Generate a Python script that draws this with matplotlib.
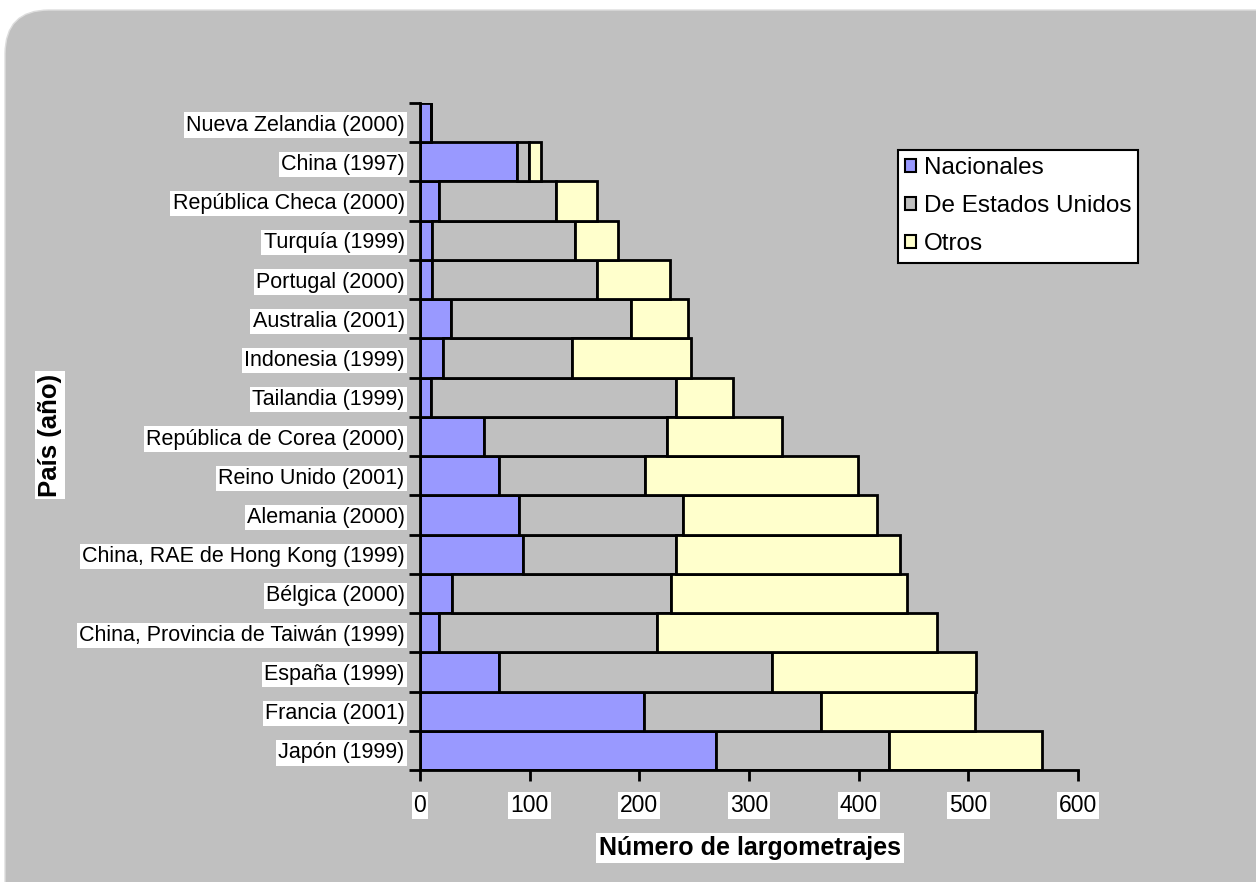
import numpy as np
import matplotlib
matplotlib.use('Agg')
import matplotlib.pyplot as plt
from matplotlib.patches import FancyBboxPatch, Patch

# Data (bottom to top).
paises = ['Japón (1999)', 'Francia (2001)', 'España (1999)',
          'China, Provincia de Taiwán (1999)', 'Bélgica (2000)',
          'China, RAE de Hong Kong (1999)', 'Alemania (2000)',
          'Reino Unido (2001)', 'República de Corea (2000)',
          'Tailandia (1999)', 'Indonesia (1999)', 'Australia (2001)',
          'Portugal (2000)', 'Turquía (1999)', 'República Checa (2000)',
          'China (1997)', 'Nueva Zelandia (2000)']
nacionales = [270, 204, 72, 17, 29, 94, 90, 72, 58, 10, 21, 28, 11, 11, 17, 88, 10]
estados_unidos = [158, 162, 249, 199, 200, 139, 150, 133, 167, 223, 118, 164, 150, 130, 107, 11, 0]
otros = [139, 140, 186, 255, 215, 205, 177, 194, 105, 52, 108, 52, 67, 40, 37, 11, 0]
series = ['Nacionales', 'De Estados Unidos', 'Otros']
colores = ['#9999FF', '#C0C0C0', '#FFFFCC']

plt.rcParams['font.family'] = ['Liberation Sans', 'DejaVu Sans']

fig = plt.figure(figsize=(12.56, 8.82), dpi=100)
fig.patch.set_facecolor('white')
# Rounded grey chart area.
bg = FancyBboxPatch((5 / 1256, -0.2), 1.2, 1.2 - 10 / 882,
                    boxstyle='round,pad=0,rounding_size=0.035',
                    transform=fig.transFigure, facecolor='#C0C0C0',
                    edgecolor='#DDDDDD', linewidth=1, zorder=-10,
                    mutation_aspect=1256 / 882)
fig.patches.append(bg)

ax = fig.add_axes([420 / 1256, 112 / 882, 658 / 1256, 667 / 882])
ax.set_facecolor('#C0C0C0')

y = np.arange(len(paises))
nac = np.array(nacionales)
eu = np.array(estados_unidos)
otr = np.array(otros)
ax.barh(y, nac, height=1.0, color=colores[0], edgecolor='black', linewidth=2)
ax.barh(y, eu, left=nac, height=1.0, color=colores[1], edgecolor='black', linewidth=2)
ax.barh(y, otr, left=nac + eu, height=1.0, color=colores[2], edgecolor='black', linewidth=2)

ax.set_xlim(0, 600)
ax.set_ylim(-0.5, len(paises) - 0.5)
for s in ['top', 'right']:
    ax.spines[s].set_visible(False)
for s in ['left', 'bottom']:
    ax.spines[s].set_linewidth(2)

ax.set_xticks(np.arange(0, 601, 100))
ax.tick_params(axis='x', direction='out', length=8, width=2, pad=9, labelsize=16.5)
ax.set_yticks(np.arange(-0.5, len(paises), 1))
ax.set_yticklabels([])
ax.tick_params(axis='y', which='major', direction='out', length=8, width=2)
ax.set_yticks(y, minor=True)
ax.set_yticklabels(paises, minor=True)
ax.tick_params(axis='y', which='minor', length=0, pad=11, labelsize=15.5)

for lab in ax.get_xticklabels() + ax.get_yticklabels(minor=True):
    lab.set_bbox(dict(facecolor='white', edgecolor='none', pad=1.5))

fig.text(750 / 1256, 1 - 848 / 882, 'Número de largometrajes', fontsize=18,
         fontweight='bold', ha='center', va='center',
         bbox=dict(facecolor='white', edgecolor='none', pad=2))
fig.text(50 / 1256, 1 - 435 / 882, 'País (año)', fontsize=18.5,
         fontweight='bold', ha='center', va='center', rotation=90,
         bbox=dict(facecolor='white', edgecolor='none', pad=2))

handles = [Patch(facecolor=c, edgecolor='black', linewidth=1.5) for c in colores]
leg = fig.legend(handles, series, loc='upper left',
                 bbox_to_anchor=(898 / 1256, 1 - 150 / 882),
                 fontsize=17.5, frameon=True, fancybox=False,
                 handlelength=0.45, handleheight=0.45, handletextpad=0.3,
                 labelspacing=0.66, borderpad=0.3, borderaxespad=0)
leg.get_frame().set_edgecolor('black')
leg.get_frame().set_linewidth(1.5)
leg.get_frame().set_facecolor('white')
leg.get_frame().set_alpha(1)

fig.savefig('out.png', dpi=100, facecolor=fig.get_facecolor())
